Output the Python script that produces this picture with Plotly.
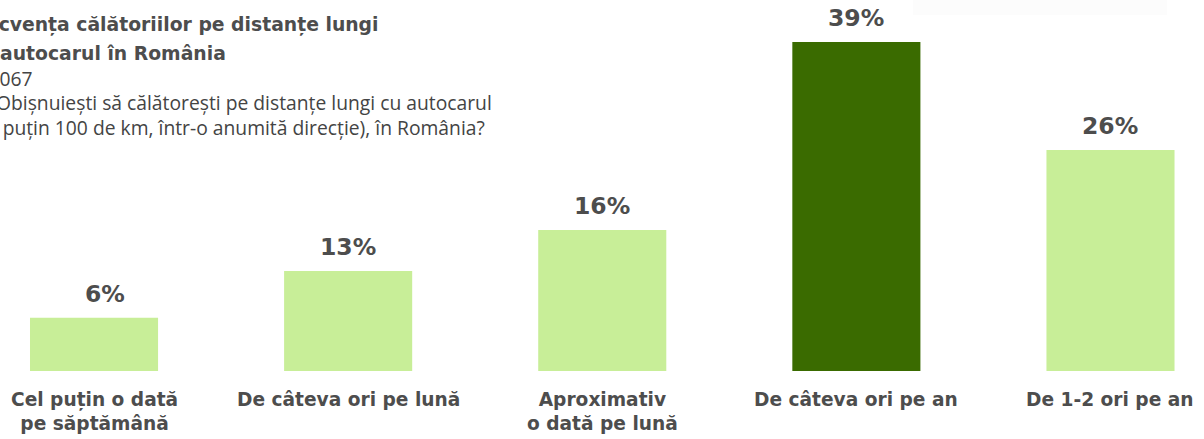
import plotly.graph_objects as go

categories = ["Cel puțin o dată<br>pe săptămână", "De câteva ori pe lună",
              "Aproximativ<br>o dată pe lună", "De câteva ori pe an", "De 1-2 ori pe an"]
values = [6.3, 11.85, 16.7, 39.0, 26.2]
value_labels = ["6%", "13%", "16%", "39%", "26%"]
bar_colors = ["#c8ee98", "#c8ee98", "#c8ee98", "#3a6b00", "#c8ee98"]

title_lines = ["<b>Frecvența călătoriilor pe distanțe lungi</b>", "<b>cu autocarul în România</b>"]
subtitle_lines = ["N=1067",
                  "Obișnuiești să călătorești pe distanțe lungi cu autocarul",
                  "(cel puțin 100 de km, într-o anumită direcție), în România?"]

W, H = 1204, 439
TEXT = "#4d4d4d"
xpos = list(range(len(categories)))

fig = go.Figure(go.Bar(x=xpos, y=values, marker=dict(color=bar_colors, line=dict(width=0)),
                       width=0.504, hoverinfo="skip"))

ann = []
for i, (v, lab) in enumerate(zip(values, value_labels)):
    ann.append(dict(x=i, y=v, xref="x", yref="y", text=f"<b>{lab}</b>", showarrow=False,
                    yanchor="bottom", yshift=8, xshift=(11 if len(lab) == 2 else 0),
                    font=dict(family="DejaVu Sans", size=23.5, color=TEXT)))
for i, c in enumerate(categories):
    ann.append(dict(x=i, y=0, xref="x", yref="paper", text=f"<b>{c}</b>", showarrow=False,
                    yanchor="top", yshift=-16, align="center",
                    font=dict(family="DejaVu Sans", size=18.6, color=TEXT)))

def py(p):
    return 1 - p / 371.0

title_y = [25, 54]
title_shift = [-37, -33]
for t, yy, sh in zip(title_lines, title_y, title_shift):
    ann.append(dict(x=0, y=py(yy), xref="paper", yref="paper", text=t, showarrow=False,
                    xanchor="left", yanchor="middle", xshift=sh, align="left",
                    font=dict(family="DejaVu Sans", size=18.8, color=TEXT)))
sub_y = [78, 102, 127]
sub_shift = [-38, -5, -34]
for t, yy, sh in zip(subtitle_lines, sub_y, sub_shift):
    ann.append(dict(x=0, y=py(yy), xref="paper", yref="paper", text=t, showarrow=False,
                    xanchor="left", yanchor="middle", xshift=sh, align="left", borderpad=0,
                    font=dict(family="Open Sans", size=19.3, color="#444444")))

fig.update_layout(
    width=W, height=H, margin=dict(l=0, r=0, t=0, b=68),
    paper_bgcolor="white", plot_bgcolor="white", showlegend=False,
    xaxis=dict(range=[-0.370, 4.368], showticklabels=False, showgrid=False, zeroline=False,
               showline=False, ticks=""),
    yaxis=dict(range=[0, 371 / 8.436], visible=False, showgrid=False, zeroline=False),
    annotations=ann,
    shapes=[dict(type="rect", xref="paper", yref="paper", x0=913 / W, x1=1167 / W,
                 y0=py(15), y1=py(-5), fillcolor="#fcfcfc", line=dict(width=0), layer="below")],
)
fig.write_html("out.html", config={"displayModeBar": False},
               post_script="document.body.style.margin='0px';")
